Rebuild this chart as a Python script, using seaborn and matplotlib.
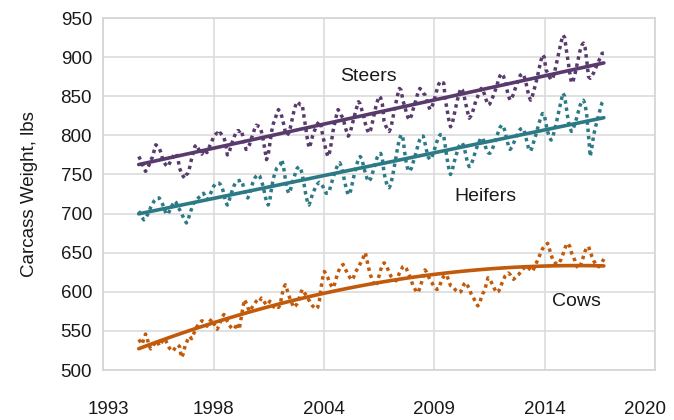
import numpy as np
import pandas as pd
import matplotlib
matplotlib.use("Agg")
import matplotlib.pyplot as plt
import matplotlib.transforms as mtransforms
import seaborn as sns

# monthly carcass weights, Jan 1995 .. Oct 2017
years = list(range(1995, 2018))

steers = [
    [773, 769, 764, 758, 754, 757, 762, 768, 772, 780, 788, 786],
    [784, 778, 770, 765, 762, 760, 764, 768, 772, 777, 776, 770],
    [758, 752, 748, 745, 750, 752, 760, 770, 778, 786, 788, 783],
    [779, 776, 780, 782, 778, 783, 788, 793, 798, 801, 803, 800],
    [803, 800, 797, 790, 775, 778, 785, 792, 798, 803, 806, 805],
    [807, 800, 790, 782, 784, 788, 795, 802, 808, 813, 812, 811],
    [805, 795, 782, 769, 775, 790, 805, 815, 820, 828, 833, 830],
    [824, 815, 805, 800, 803, 810, 820, 830, 838, 843, 841, 839],
    [839, 824, 810, 795, 784, 790, 799, 805, 810, 815, 818, 812],
    [800, 790, 780, 773, 778, 790, 805, 815, 825, 833, 830, 825],
    [822, 812, 805, 799, 803, 811, 820, 828, 836, 843, 840, 832],
    [825, 815, 808, 803, 806, 815, 825, 835, 843, 850, 848, 840],
    [818, 812, 808, 805, 810, 820, 832, 842, 852, 860, 858, 845],
    [838, 830, 823, 820, 825, 833, 840, 848, 855, 860, 858, 854],
    [852, 845, 838, 833, 836, 842, 850, 858, 865, 869, 867, 867],
    [845, 833, 820, 811, 815, 825, 835, 845, 853, 860, 858, 850],
    [840, 830, 822, 825, 830, 838, 845, 850, 855, 860, 858, 852],
    [845, 839, 840, 845, 850, 856, 862, 870, 876, 879, 876, 870],
    [860, 850, 845, 848, 853, 860, 866, 872, 877, 879, 877, 870],
    [860, 850, 845, 850, 858, 866, 875, 885, 895, 903, 900, 884],
    [880, 875, 871, 873, 880, 890, 900, 910, 920, 928, 925, 909],
    [895, 880, 867, 870, 878, 888, 898, 908, 915, 918, 912, 895],
    [875, 873, 876, 880, 885, 890, 895, 900, 905, 905],
]

heifers = [
    [703, 700, 695, 692, 694, 698, 702, 708, 712, 716, 718, 720],
    [720, 716, 712, 706, 700, 699, 703, 708, 712, 716, 714, 708],
    [705, 701, 696, 692, 688, 692, 700, 706, 712, 716, 718, 720],
    [722, 724, 726, 722, 718, 720, 725, 730, 735, 738, 739, 739],
    [737, 733, 725, 715, 711, 716, 724, 730, 736, 740, 742, 742],
    [743, 738, 730, 722, 720, 724, 732, 740, 745, 748, 750, 748],
    [742, 735, 725, 715, 711, 718, 733, 745, 752, 758, 760, 762],
    [769, 760, 745, 732, 726, 730, 738, 745, 752, 758, 760, 758],
    [750, 738, 725, 715, 711, 718, 725, 730, 735, 738, 740, 738],
    [735, 730, 726, 726, 730, 738, 745, 752, 758, 763, 765, 760],
    [750, 740, 730, 724, 726, 735, 745, 755, 763, 770, 773, 770],
    [760, 752, 745, 741, 744, 750, 758, 765, 772, 776, 777, 770],
    [752, 742, 735, 733, 738, 748, 760, 772, 785, 795, 801, 798],
    [780, 765, 756, 754, 758, 765, 772, 780, 788, 795, 799, 799],
    [790, 780, 772, 769, 772, 778, 785, 792, 798, 801, 801, 800],
    [785, 770, 758, 750, 755, 765, 772, 780, 786, 790, 790, 785],
    [775, 765, 760, 762, 768, 775, 782, 788, 793, 797, 796, 790],
    [782, 778, 777, 780, 785, 792, 798, 804, 810, 813, 812, 805],
    [795, 787, 782, 785, 790, 795, 800, 805, 808, 809, 808, 800],
    [790, 782, 780, 785, 793, 800, 808, 816, 823, 828, 827, 815],
    [805, 798, 794, 798, 806, 815, 825, 835, 845, 854, 850, 835],
    [820, 810, 805, 808, 815, 822, 830, 838, 843, 845, 840, 825],
    [800, 773, 785, 800, 810, 818, 826, 835, 842, 845],
]

cows = [
    [539, 536, 533, 540, 546, 540, 532, 527, 530, 533, 535, 537],
    [531, 533, 538, 540, 537, 532, 528, 526, 524, 527, 530, 532],
    [530, 516, 520, 529, 535, 540, 543, 540, 545, 550, 555, 558],
    [560, 563, 562, 560, 556, 560, 563, 565, 560, 555, 552, 556],
    [562, 568, 571, 568, 562, 558, 555, 553, 552, 556, 560, 552],
    [565, 578, 590, 586, 580, 575, 578, 582, 585, 588, 590, 588],
    [592, 590, 586, 583, 585, 588, 584, 581, 580, 582, 580, 583],
    [595, 605, 609, 603, 596, 590, 585, 580, 582, 585, 590, 598],
    [603, 600, 596, 592, 589, 585, 582, 580, 578, 580, 588, 605],
    [618, 626, 622, 618, 612, 608, 605, 610, 618, 625, 630, 633],
    [635, 630, 626, 622, 618, 615, 618, 624, 628, 632, 636, 640],
    [645, 650, 640, 630, 622, 615, 610, 607, 612, 620, 628, 634],
    [637, 635, 630, 625, 620, 618, 616, 614, 618, 624, 628, 632],
    [633, 630, 625, 620, 614, 608, 604, 600, 599, 605, 612, 620],
    [628, 625, 620, 615, 612, 608, 605, 603, 604, 610, 615, 620],
    [622, 620, 614, 608, 607, 605, 602, 600, 599, 600, 605, 610],
    [612, 608, 604, 598, 594, 590, 586, 582, 585, 592, 598, 601],
    [610, 618, 616, 612, 608, 603, 599, 600, 604, 610, 615, 620],
    [622, 624, 622, 618, 616, 618, 620, 622, 625, 628, 630, 632],
    [633, 630, 628, 626, 630, 635, 640, 645, 650, 655, 658, 660],
    [662, 655, 648, 641, 638, 636, 635, 638, 642, 648, 655, 660],
    [662, 658, 650, 645, 640, 633, 630, 632, 638, 645, 652, 656],
    [658, 652, 645, 640, 636, 633, 632, 634, 638, 642],
]

series = {"Steers": steers, "Heifers": heifers, "Cows": cows}
colors = {"Steers": "#583b6c", "Heifers": "#2b7a85", "Cows": "#c25a0c"}
trend_order = {"Steers": 1, "Heifers": 1, "Cows": 2}
labels_pos = {"Steers": (2006.3, 875), "Heifers": (2012.0, 722), "Cows": (2016.45, 587)}

xtick_labels = ["1993", "1998", "2004", "2009", "2014", "2020"]
x_start = 1993.3
x_step = 5.4


def to_frame():
    rows = []
    for name, table in series.items():
        for yr, vals in zip(years, table):
            for m, v in enumerate(vals):
                rows.append({"kind": name, "date": yr + (m + 0.5) / 12, "weight": v})
    return pd.DataFrame(rows)


df = to_frame()

sns.set_style("white")
plt.rcParams["font.family"] = ["Liberation Sans", "DejaVu Sans"]

fig = plt.figure(figsize=(6.74, 4.2), dpi=100)
ax = fig.add_axes([0.153, 0.119, 0.819, 0.838])

for name in series:
    sub = df[df["kind"] == name]
    sns.lineplot(data=sub, x="date", y="weight", color=colors[name], lw=2.5, ax=ax)
    ln = ax.lines[-1]
    ln.set_dashes((1.0, 1.1))
    ln.set_dash_capstyle("butt")
    sns.regplot(data=sub, x="date", y="weight", order=trend_order[name], scatter=False,
                ci=None, truncate=True, color=colors[name], line_kws={"lw": 2.6}, ax=ax)
    tx, ty = labels_pos[name]
    ax.text(tx, ty, name, fontsize=14, ha="center", va="center", color="#1a1a1a")

ax.set_xlim(x_start, x_start + 5 * x_step)
ax.set_ylim(500, 950)
ax.set_xticks([x_start + i * x_step for i in range(6)])
ax.set_xticklabels(xtick_labels)
ax.set_yticks(range(500, 951, 50))
ax.grid(True, color="#dcdcdc", lw=1.2)
ax.set_axisbelow(True)
for s in ax.spines.values():
    s.set_color("#d4d4d4")
    s.set_linewidth(1.2)
ax.tick_params(axis="x", labelsize=13.5, pad=22, length=0, colors="#1a1a1a")
ax.tick_params(axis="y", labelsize=13.5, pad=8, length=0, colors="#1a1a1a")
ax.set_xlabel("")
ax.set_ylabel("Carcass Weight, lbs", fontsize=13.5, color="#1a1a1a", labelpad=16)

# nudge the outer year labels the way the original sits them
xlabs = ax.get_xticklabels()
xlabs[0].set_transform(xlabs[0].get_transform() + mtransforms.ScaledTranslation(0.05, 0, fig.dpi_scale_trans))
xlabs[-1].set_transform(xlabs[-1].get_transform() + mtransforms.ScaledTranslation(-0.1, 0, fig.dpi_scale_trans))

fig.savefig("out.png", dpi=100)
